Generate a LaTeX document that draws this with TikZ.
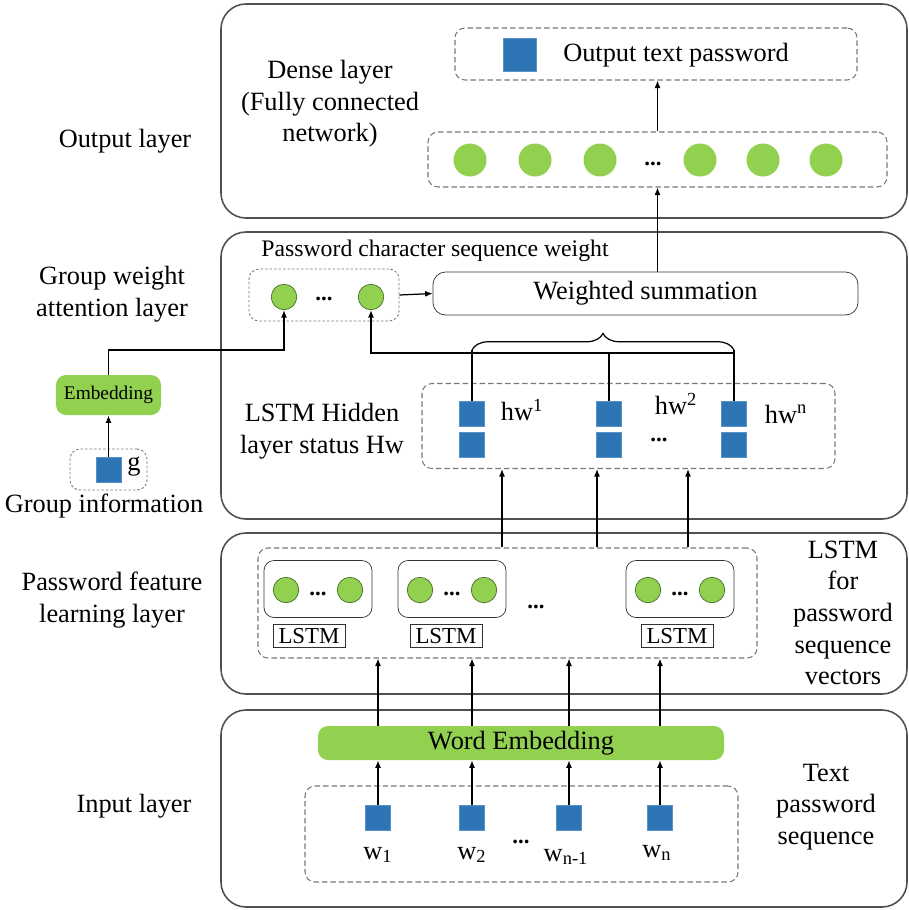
\documentclass[tikz,border=0pt]{standalone}
\usepackage{fontspec}
\setmainfont{Liberation Serif}
\usetikzlibrary{arrows.meta,decorations.pathreplacing}
\definecolor{sqblue}{RGB}{46,117,182}
\definecolor{cellgreen}{RGB}{146,208,80}
\definecolor{ringgreen}{RGB}{70,110,40}
\definecolor{linegray}{RGB}{80,80,80}
\definecolor{dashgray}{RGB}{120,120,120}

\begin{document}
\begin{tikzpicture}[x=0.2mm, y=-0.2mm, >={Latex[length=1.5mm,width=1.2mm]},
  font=\fontsize{15}{18}\selectfont,
  layerbox/.style={draw=linegray, line width=0.9pt, rounded corners=5mm},
  grpbox/.style={draw=dashgray, line width=0.6pt, dash pattern=on 1.1mm off 0.6mm, rounded corners=2mm, inner sep=0pt},
  dotbox/.style={draw=dashgray, line width=0.5pt, dash pattern=on 0.5mm off 0.4mm, rounded corners=2mm, inner sep=0pt},
  bluesq/.style={fill=sqblue, draw=sqblue!80!white, minimum size=5mm, inner sep=0pt},
  neuron/.style={circle, fill=cellgreen, draw=ringgreen, minimum size=5.1mm, inner sep=0pt},
  densenode/.style={circle, fill=cellgreen, minimum size=6.6mm, inner sep=0pt},
  embbox/.style={fill=cellgreen, rounded corners=2mm, inner sep=0pt},
  cellbox/.style={draw=black!80, rounded corners=2mm, minimum width=21.6mm, minimum height=11.4mm},
  lstmbox/.style={draw=black!80, font=\fontsize{13}{15}\selectfont, minimum width=14.4mm, minimum height=4.6mm, inner sep=0pt},
  ellip/.style={font=\fontsize{13}{15}\selectfont\bfseries, inner sep=0pt},
  conn/.style={line width=0.7pt}]

\useasboundingbox (0,0) rectangle (909,910);

% layers
\draw[layerbox] (221,4) rectangle (907,218);
\draw[layerbox] (221,232) rectangle (907,519);
\draw[layerbox] (221,533) rectangle (907,694);
\draw[layerbox] (221,710) rectangle (907,907);

\node (outlbl) at (125,141) {Output layer};
\node[align=center] (attlbl) at (112,294) {Group weight\\attention layer};
\node[align=center] (featlbl) at (112,600) {Password feature\\learning layer};
\node (inlbl) at (134,806) {Input layer};

% output layer
\node[grpbox, minimum width=80.4mm, minimum height=10.4mm] (outbox) at (656,54) {};
\node[bluesq, minimum size=6.6mm] (outsq) at (520,55) {};
\node (outtxt) at (676,55) {Output text password};
\node[align=center] (denselbl) at (330,104) {Dense layer\\(Fully connected\\network)};
\node[grpbox, minimum width=91.8mm, minimum height=11mm] (densebox) at (657.5,159.5) {};
\foreach \x [count=\i] in {470,535,600,700,763,826}
  \node[densenode] (d\i) at (\x,160) {};
\node[ellip] (ddots) at (653,164) {...};
\draw[->, conn] (densebox.north) -- (densebox.north |- outbox.south);

% attention layer
\node[font=\fontsize{13.5}{16}\selectfont] (pcsw) at (435,251) {Password character sequence weight};
\node[dotbox, minimum width=30mm, minimum height=10.4mm] (attbox) at (324,295) {};
\node[neuron] (a1) at (284,297) {};
\node[ellip] (adots) at (324,299) {...};
\node[neuron] (a2) at (371,297) {};
\node[draw=black!80, rounded corners=2.5mm, minimum width=85mm, minimum height=8.6mm] (wsum) at (645.5,293.5) {Weighted summation};
\draw[->, conn] (attbox.east) -- (wsum.west);
\draw[->, conn] (densebox.south |- wsum.north) -- (densebox.south);

% hidden states
\node[align=center] (hidlbl) at (322,431) {LSTM Hidden\\layer status Hw};
\node[grpbox, minimum width=82.6mm, minimum height=17mm] (hidbox) at (628.5,426) {};
\foreach \x/\n in {472/1,609/2,734/3} {
  \node[bluesq] (h\n a) at (\x,414) {};
  \node[bluesq] (h\n b) at (\x,445) {};
}
\node (hw1) at (522,410) {hw\textsuperscript{1}};
\node[inner sep=0pt] (hw2) at (676,404) {hw\textsuperscript{2}};
\node (hwn) at (786,414) {hw\textsuperscript{n}};
\node[ellip] (hdots) at (659,440) {...};

\draw[decorate, decoration={brace, amplitude=3.3mm}, conn] (472,350) -- (734,350);
\draw[conn] (h1a.north) -- (h1a.north |- 0,350);
\draw[conn] (h2a.north) -- (h2a.north |- 0,353);
\draw[conn] (h3a.north) -- (h3a.north |- 0,350);
\draw[->, conn] (h3a.north |- 0,353) -| (a2.south);

% group information
\node[embbox, minimum width=21mm, minimum height=8mm, font=\fontsize{11}{13}\selectfont] (emb) at (108.5,395) {Embedding};
\node[dotbox, minimum width=15.4mm, minimum height=8.2mm] (gbox) at (108.5,469.5) {};
\node[bluesq] (gsq) at (108.5,469.5) {};
\node (glbl) at (134,467) {g};
\node (grouplbl) at (104,506) {Group information};
\draw[->, conn] (gsq.north) -- (gsq.north |- emb.south);
\draw[->, conn] (emb.north) -- (emb.north |- 0,350) -| (a1.south);

% feature learning layer
\node[align=center] (lstmlbl) at (843,613) {LSTM\\for\\password\\sequence\\vectors};
\node[grpbox, minimum width=99.8mm, minimum height=22mm] (featbox) at (507.5,603) {};
\foreach \x/\lx [count=\i] in {318/309,452/446,680/677} {
  \node[cellbox] (c\i) at (\x,589) {};
  \node[neuron] (cl\i) at (\x-32,590) {};
  \node[ellip] (cd\i) at (\x,594) {...};
  \node[neuron] (cr\i) at (\x+32,590) {};
  \node[lstmbox] (l\i) at (\lx,636) {LSTM};
}
\node[ellip] (fdots) at (536,607) {...};
\foreach \x in {502,597,688}
  \draw[->, conn] (\x,0 |- featbox.north) -- (\x,0 |- hidbox.south);

% input layer
\node[align=center] (seqlbl) at (826,807) {Text\\password\\sequence};
\node[embbox, minimum width=81.2mm, minimum height=6.8mm] (wemb) at (521,743) {Word Embedding};
\node[grpbox, minimum width=86.6mm, minimum height=19.2mm] (inbox) at (521.5,834) {};
\foreach \x [count=\i] in {378,472,569,660}
  \node[bluesq] (s\i) at (\x,818) {};
\node (w1) at (378,855) {w\textsubscript{1}};
\node (w2) at (472,855) {w\textsubscript{2}};
\node[ellip] (wdots) at (521,842) {...};
\node (w3) at (566,857) {w\textsubscript{n-1}};
\node (w4) at (657,853) {w\textsubscript{n}};
\foreach \i in {1,...,4} {
  \draw[->, conn] (s\i.north) -- (s\i.north |- wemb.south);
  \draw[->, conn] (s\i.north |- wemb.north) -- (s\i.north |- featbox.south);
}
\end{tikzpicture}
\end{document}
